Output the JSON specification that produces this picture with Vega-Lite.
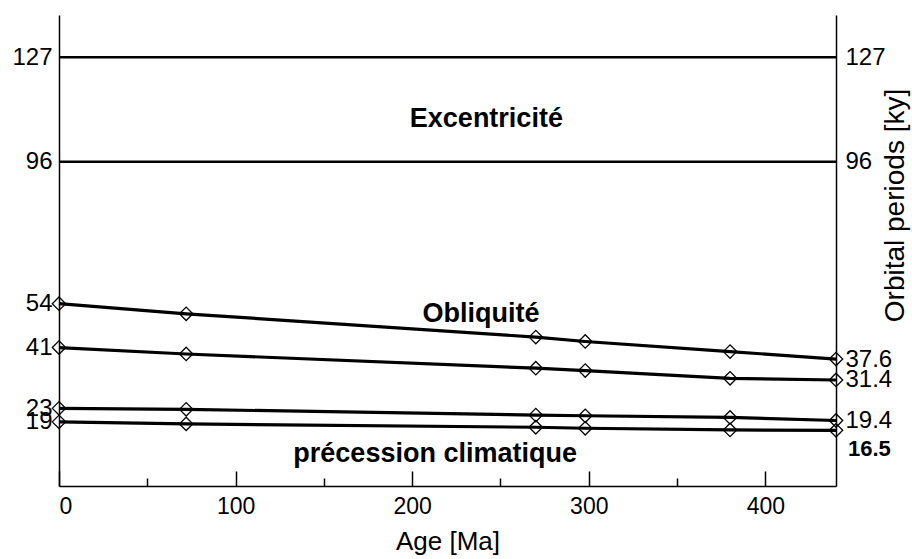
{
  "$schema": "https://vega.github.io/schema/vega-lite/v6.json",
  "width": 777,
  "height": 471,
  "autosize": {"type": "none"},
  "padding": {"left": 59, "top": 15, "right": 76, "bottom": 73},
  "background": "white",
  "config": {
    "view": {"stroke": null},
    "font": "Liberation Sans",
    "axis": {"domainColor": "black", "tickColor": "black", "labelColor": "black", "titleColor": "black", "labelFont": "Liberation Sans", "titleFont": "Liberation Sans", "titleFontWeight": "normal", "grid": false, "domainWidth": 1.5, "tickWidth": 1.5}
  },
  "datasets": {
    "periods": [
      {"series": "O54", "age": 0, "period": 54},
      {"series": "O54", "age": 72, "period": 51.0},
      {"series": "O54", "age": 270, "period": 44.1},
      {"series": "O54", "age": 298, "period": 42.8},
      {"series": "O54", "age": 380, "period": 39.8},
      {"series": "O54", "age": 440, "period": 37.6},
      {"series": "O41", "age": 0, "period": 41},
      {"series": "O41", "age": 72, "period": 39.1},
      {"series": "O41", "age": 270, "period": 34.9},
      {"series": "O41", "age": 298, "period": 34.2},
      {"series": "O41", "age": 380, "period": 31.9},
      {"series": "O41", "age": 440, "period": 31.4},
      {"series": "P23", "age": 0, "period": 23},
      {"series": "P23", "age": 72, "period": 22.7},
      {"series": "P23", "age": 270, "period": 21.0},
      {"series": "P23", "age": 298, "period": 20.8},
      {"series": "P23", "age": 380, "period": 20.3},
      {"series": "P23", "age": 440, "period": 19.4},
      {"series": "P19", "age": 0, "period": 19},
      {"series": "P19", "age": 72, "period": 18.4},
      {"series": "P19", "age": 270, "period": 17.4},
      {"series": "P19", "age": 298, "period": 17.1},
      {"series": "P19", "age": 380, "period": 16.6},
      {"series": "P19", "age": 440, "period": 16.5}
    ],
    "eccentricity": [{"period": 127}, {"period": 96}],
    "labels": [
      {"label": "Excentricité", "age": 242, "period": 106.4},
      {"label": "Obliquité", "age": 239, "period": 48.7},
      {"label": "précession climatique", "age": 213, "period": 7.2}
    ],
    "endlabel": [{"label": "16.5", "age": 440, "period": 8.9}]
  },
  "layer": [
    {
      "data": {"name": "periods"},
      "mark": {"type": "line", "color": "black", "strokeWidth": 3.2},
      "encoding": {
        "x": {"field": "age", "type": "quantitative", "scale": {"domain": [0, 440], "nice": false, "zero": false},
          "axis": {"orient": "bottom", "values": [0, 100, 200, 300, 400], "tickSize": -15, "labelPadding": 24, "labelFontSize": 23, "title": "Age [Ma]", "titleFontSize": 26, "titlePadding": 10}},
        "y": {"field": "period", "type": "quantitative", "scale": {"domain": [0, 139.5], "nice": false, "zero": false},
          "axis": {"orient": "left", "values": [127, 96, 54, 41, 23, 19], "ticks": false, "labelPadding": 7, "labelFontSize": 24, "labelOverlap": false, "labelBound": false, "labelFlush": false, "title": null}},
        "detail": {"field": "series"}
      }
    },
    {
      "data": {"name": "periods"},
      "mark": {"type": "point", "shape": "diamond", "filled": false, "color": "black", "size": 180, "strokeWidth": 1.3, "opacity": 1},
      "encoding": {
        "x": {"field": "age", "type": "quantitative", "axis": null},
        "y": {"field": "period", "type": "quantitative", "axis": null}
      }
    },
    {
      "data": {"name": "eccentricity"},
      "mark": {"type": "rule", "color": "black", "strokeWidth": 2.5},
      "encoding": {
        "y": {"field": "period", "type": "quantitative",
          "axis": {"orient": "right", "values": [127, 96, 37.6, 31.4, 19.4], "labelExpr": "datum.value >= 90 ? format(datum.value, 'd') : format(datum.value, '.1f')", "ticks": false, "labelPadding": 9, "labelFontSize": 24, "labelOverlap": false, "labelBound": false, "labelFlush": false,
            "title": "Orbital periods [ky]", "titleFontSize": 28, "titleAngle": 270, "titleX": 59, "titleY": 190, "titleAlign": "center", "titleBaseline": "middle"}}
      }
    },
    {
      "data": {"name": "labels"},
      "mark": {"type": "text", "font": "Liberation Sans", "fontWeight": "bold", "fontSize": 27, "color": "black", "align": "center", "baseline": "alphabetic"},
      "encoding": {
        "x": {"field": "age", "type": "quantitative",
          "axis": {"orient": "bottom", "values": [50, 150, 250, 350], "tickSize": -8, "labels": false, "domain": false, "title": null}},
        "y": {"field": "period", "type": "quantitative", "axis": null},
        "text": {"field": "label"}
      }
    },
    {
      "data": {"name": "endlabel"},
      "mark": {"type": "text", "font": "Liberation Sans", "fontWeight": "bold", "fontSize": 22, "color": "black", "align": "left", "baseline": "alphabetic", "dx": 12},
      "encoding": {
        "x": {"field": "age", "type": "quantitative", "axis": null},
        "y": {"field": "period", "type": "quantitative", "axis": null},
        "text": {"field": "label"}
      }
    }
  ],
  "resolve": {"axis": {"x": "independent", "y": "independent"}}
}
